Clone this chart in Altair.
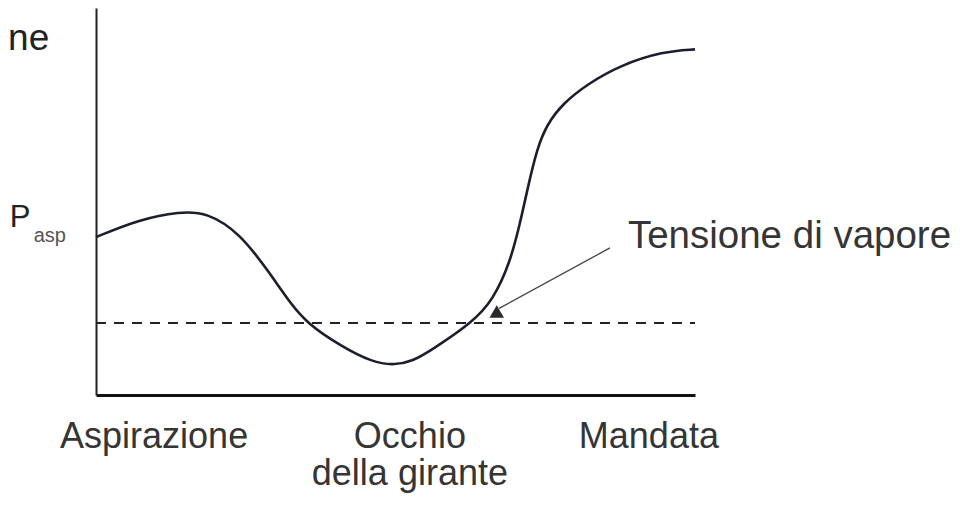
import altair as alt
import pandas as pd

# Pressure profile along the pump (arbitrary units, 0-100)
pos = [0, 7.3, 14.0, 18.5, 24.0, 29.0, 32.4, 35.2, 40.7, 46.2, 49.9, 52.9, 55.8, 62.9,
       66.3, 69.1, 70.8, 72.0, 73.6, 75.3, 78.0, 82.0, 87.5, 94.7, 100]
pressure = [40.8, 45.4, 47.4, 47.2, 41.9, 31.5, 23.8, 18.6, 12.8, 8.4, 7.7, 8.8, 11.4, 18.8,
            24.6, 34.1, 44.4, 53.0, 63.6, 70.0, 75.4, 80.3, 85.2, 88.8, 89.3]

vapour_level = 18.6

cat_labels = ["Aspirazione", "Occhio", "della girante", "Mandata"]
cat_x = [9.7, 52.4, 52.4, 92.3]
cat_y = [-13.7, -13.7, -23.3, -13.7]

curve = pd.DataFrame({"x": pos, "y": pressure})
vap = pd.DataFrame({"x": [0], "x2": [100], "y": [vapour_level]})
arrow = pd.DataFrame({"x": [85.8], "y": [38.0], "x2": [67.3], "y2": [22.4]})
head = pd.DataFrame({"x": [66.9], "y": [21.6]})
cats = pd.DataFrame({"label": cat_labels, "x": cat_x, "y": cat_y})

FONT = "Liberation Sans"
TXT = "#353535"
LINE = "#1c1f2b"

xs = alt.Scale(domain=[0, 100], nice=False, zero=False)
ys = alt.Scale(domain=[0, 100], nice=False, zero=False)
xax = alt.Axis(labels=False, ticks=False, grid=False, title=None,
               domainColor="#111111", domainWidth=3)
yax = alt.Axis(labels=False, ticks=False, grid=False, title=None,
               domainColor="#222222", domainWidth=2)

line = alt.Chart(curve).mark_line(interpolate="basis", color=LINE, strokeWidth=2.6).encode(
    x=alt.X("x:Q", scale=xs, axis=xax),
    y=alt.Y("y:Q", scale=ys, axis=yax),
)

dashed = alt.Chart(vap).mark_rule(color="#222222", strokeWidth=2, strokeDash=[10, 8]).encode(
    x="x:Q", x2="x2:Q", y="y:Q"
)

arr = alt.Chart(arrow).mark_rule(color="#444444", strokeWidth=1.3).encode(
    x="x:Q", y="y:Q", x2="x2:Q", y2="y2:Q"
)

arrhead = alt.Chart(head).mark_point(shape="triangle-up", filled=True, size=210,
                                     color="#2a2a2a", opacity=1).encode(
    x="x:Q", y="y:Q"
)

tens = alt.Chart(pd.DataFrame({"x": [88.8], "y": [38.0], "t": ["Tensione di vapore"]})).mark_text(
    align="left", baseline="alphabetic", font=FONT, fontSize=38.5, color=TXT
).encode(x="x:Q", y="y:Q", text="t:N")

cat_text = alt.Chart(cats).mark_text(
    align="center", baseline="alphabetic", font=FONT, fontSize=36, color=TXT
).encode(x="x:Q", y="y:Q", text="label:N")

ylab = alt.Chart(pd.DataFrame({"x": [-7.8], "y": [89.1], "t": ["ne"]})).mark_text(
    align="right", baseline="alphabetic", font=FONT, fontSize=37, color="#222222"
).encode(x="x:Q", y="y:Q", text="t:N")

p_main = alt.Chart(pd.DataFrame({"x": [-14.4], "y": [43.4], "t": ["P"]})).mark_text(
    align="left", baseline="alphabetic", font=FONT, fontSize=31, color="#222222"
).encode(x="x:Q", y="y:Q", text="t:N")

p_sub = alt.Chart(pd.DataFrame({"x": [-10.4], "y": [39.6], "t": ["asp"]})).mark_text(
    align="left", baseline="alphabetic", font=FONT, fontSize=20, color="#555555"
).encode(x="x:Q", y="y:Q", text="t:N")

chart = alt.layer(dashed, line, arr, arrhead, tens, cat_text, ylab, p_main, p_sub).properties(
    width=599, height=387,
    autosize=alt.AutoSizeParams(type="none"),
    padding={"left": 88, "top": 0, "right": 261, "bottom": 104},
    background="white",
).configure_view(stroke=None)

chart.save("out.html", embed_options={"renderer": "svg", "actions": False})
